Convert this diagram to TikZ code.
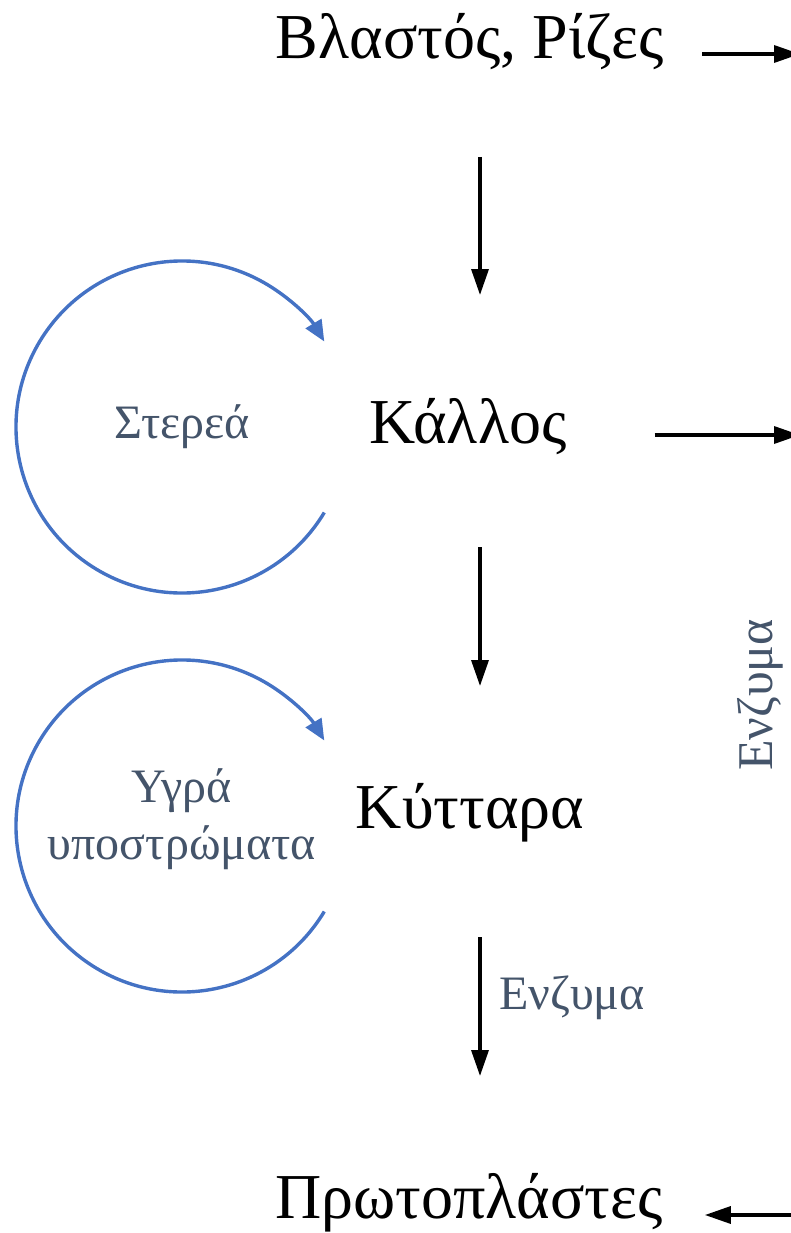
\documentclass[tikz,border=0pt]{standalone}
\usepackage{fontspec}
\setmainfont{Liberation Serif}
\usepackage{xcolor}
\usetikzlibrary{arrows.meta,positioning}

\definecolor{loopblue}{HTML}{4472C4}
\definecolor{labelgray}{HTML}{44546A}

\tikzset{
  stage/.style={font=\fontsize{64}{70}\selectfont, inner sep=0pt},
  medium/.style={font=\fontsize{48}{57}\selectfont, text=labelgray, align=center, inner sep=0pt},
  flow/.style={line width=3.4pt, -{Triangle[length=26pt,width=17pt]}},
  cycle loop/.style={line width=3.4pt, draw=loopblue, -{Triangle[length=21pt,width=18pt]}, loopblue}
}

\begin{document}
\begin{tikzpicture}[x=1pt,y=-1pt]
  \useasboundingbox (0,0) rectangle (791,1233);
  \clip (0,0) rectangle (791,1233);

  % main stages
  \node[stage] (shoot) at (470,42) {Βλαστός, Ρίζες};
  \node[stage] (callus) at (468,427) {Κάλλος};
  \node[stage] (cells) at (470,813) {Κύτταρα};
  \node[stage] (proto) at (469,1203) {Πρωτοπλάστες};

  % culture media
  \node[medium] (solid) at (182,427) {Στερεά};
  \node[medium] (liquid) at (182,819) {Υγρά\\υποστρώματα};
  \node[medium, anchor=west] (enzlow) at (499,998) {Ενζυμα};
  \node[medium, font=\fontsize{50}{57}\selectfont, rotate=90] (enzside) at (760,695) {Ενζυμα};

  % free ends at the right edge
  \coordinate (out1) at (800,54);
  \coordinate (out2) at (800,435);
  \coordinate (in3) at (800,1215);

  % downward steps
  \draw[flow] ([xshift=10pt,yshift=-115pt]shoot.center) -- ([xshift=12pt,yshift=132pt]callus.center);
  \draw[flow] ([xshift=12pt,yshift=-120pt]callus.center) -- ([xshift=10pt,yshift=127pt]cells.center);
  \draw[flow] ([xshift=10pt,yshift=-124pt]cells.center) -- ([xshift=11pt,yshift=127pt]proto.center);

  % sideways
  \draw[flow] ([xshift=38pt,yshift=-12pt]shoot.east) -- (out1);
  \draw[flow] ([xshift=88pt,yshift=-8pt]callus.east) -- (out2);
  \draw[flow] (in3) -- ([xshift=42pt,yshift=-12pt]proto.east);

  % subculture loops
  \draw[cycle loop] ([shift={(31:166)}]solid.center) arc[start angle=31, end angle=329, radius=166];
  \draw[cycle loop] ([shift={(31:166)},yshift=-7pt]liquid.center) arc[start angle=31, end angle=329, radius=166];
\end{tikzpicture}
\end{document}
